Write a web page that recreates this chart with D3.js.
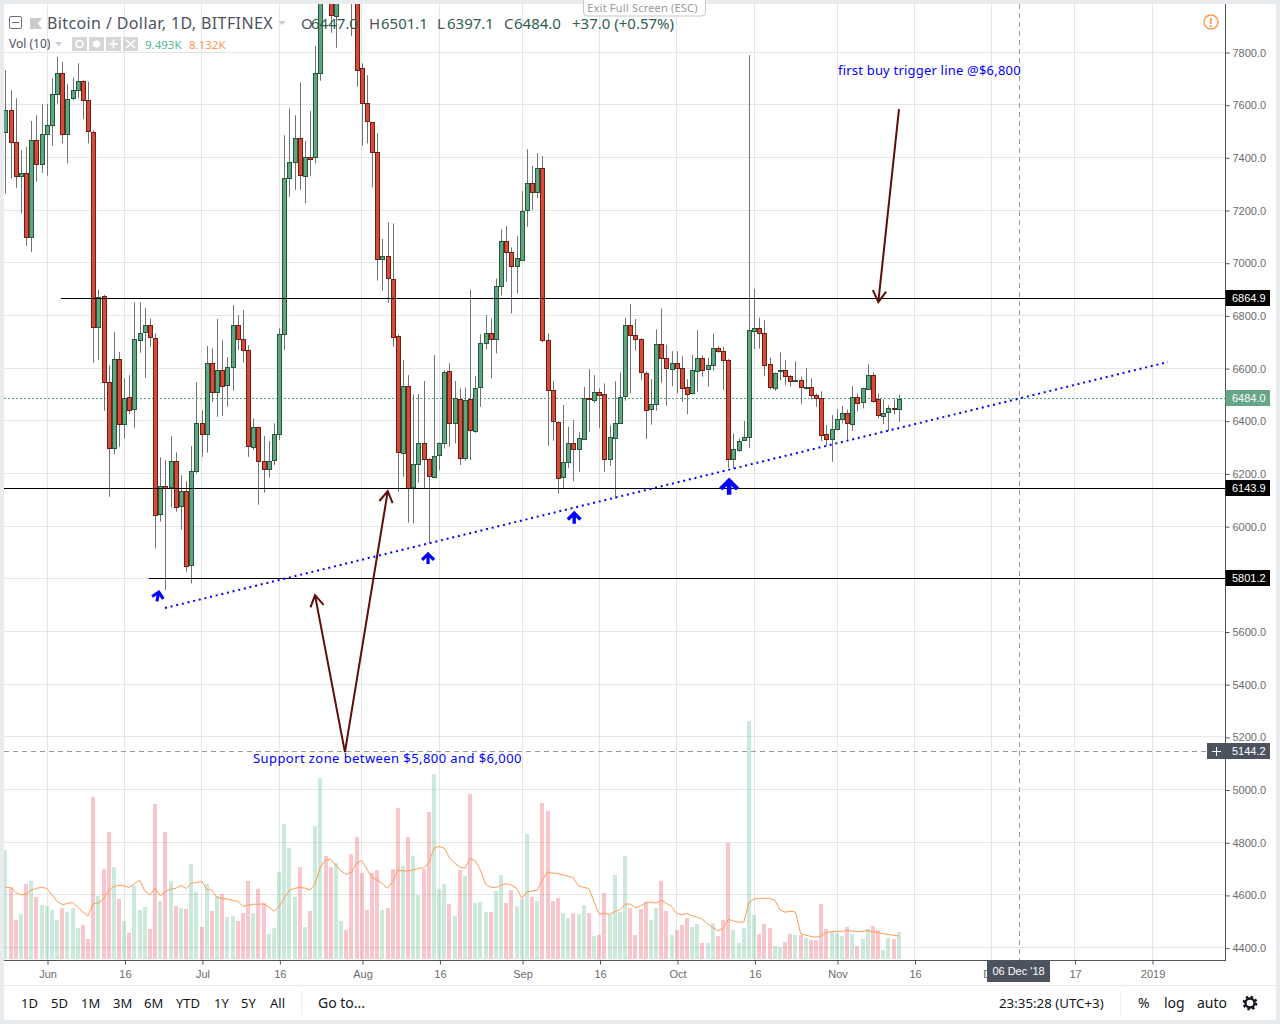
<!DOCTYPE html>
<html>
<head>
<meta charset="utf-8">
<script src="https://cdn.jsdelivr.net/npm/d3@7/dist/d3.min.js"></script>
<style>
  html, body { margin: 0; padding: 0; background: #e9ecef; }
  svg { display: block; }
  text { font-family: "Noto Sans", sans-serif; }
  .tick text, .axis-text { font-family: "Liberation Sans", Arial, sans-serif; }
</style>
</head>
<body>
<svg id="chart" width="1280" height="1024"></svg>
<script>
// first bar is 8 days before 1 Jun 2018, day number counts from 1 Jun
const firstDay = -8;

const opens = [
  7497, 7581, 7459, 7329, 7341, 7098, 7466, 7375,
  7489, 7523, 7641, 7721, 7489, 7626, 7656, 7690, 7618, 7500,
  6761, 6874, 6548, 6297, 6635, 6388, 6491, 6445, 6711, 6737,
  6764, 6718, 6046, 6153, 6149, 6251, 6077, 6134, 5853, 6210,
  6392, 6350, 6620, 6510, 6593, 6536, 6605, 6764, 6711, 6669,
  6305, 6380, 6251, 6221, 6251, 6350, 6730, 7322, 7383, 7474,
  7333, 7405, 7402, 7721, 8400, 8170, 7941, 8190, 8230, 8210,
  8180, 7740, 7607, 7535, 7421, 7015, 7026, 6942, 6722, 6282,
  6535, 6149, 6236, 6316, 6255, 6191, 6270, 6316, 6589, 6392,
  6484, 6259, 6483, 6365, 6528, 6696, 6734, 6711, 6912, 7083,
  7041, 6988, 7015, 7200, 7303, 7269, 7360, 6707, 6517, 6399,
  6187, 6244, 6316, 6293, 6335, 6490, 6483, 6513, 6502, 6255,
  6335, 6394, 6494, 6764, 6726, 6711, 6585, 6445, 6464, 6692,
  6639, 6601, 6623, 6604, 6532, 6506, 6593, 6642, 6597, 6612,
  6677, 6665, 6631, 6255, 6293, 6327, 6339, 6745, 6756, 6737,
  6616, 6525, 6589, 6593, 6570, 6551, 6555, 6528, 6532, 6500,
  6490, 6350, 6331, 6369, 6407, 6430, 6392, 6494, 6471, 6521,
  6574, 6483, 6422, 6433, 6449, 6447
];

const closes = [
  7581, 7459, 7329, 7341, 7098, 7466, 7375, 7489,
  7523, 7641, 7721, 7489, 7622, 7656, 7690, 7618, 7500, 6761,
  6873, 6548, 6297, 6635, 6388, 6487, 6441, 6711, 6737, 6764,
  6718, 6046, 6153, 6146, 6248, 6077, 6134, 5849, 6210, 6392,
  6350, 6620, 6510, 6593, 6532, 6605, 6764, 6711, 6669, 6305,
  6380, 6251, 6221, 6251, 6350, 6730, 7322, 7383, 7474, 7333,
  7405, 7398, 7721, 8400, 8170, 7941, 8190, 8230, 8210, 8180,
  7732, 7607, 7538, 7421, 7015, 7026, 6942, 6722, 6282, 6535,
  6149, 6236, 6316, 6255, 6191, 6270, 6316, 6586, 6392, 6487,
  6259, 6479, 6365, 6528, 6696, 6734, 6711, 6912, 7083, 7041,
  6988, 7018, 7200, 7303, 7269, 7360, 6707, 6517, 6399, 6187,
  6244, 6316, 6293, 6335, 6490, 6485, 6513, 6502, 6255, 6339,
  6392, 6494, 6764, 6726, 6711, 6585, 6445, 6464, 6692, 6639,
  6601, 6623, 6604, 6528, 6506, 6593, 6642, 6597, 6612, 6677,
  6665, 6631, 6255, 6293, 6327, 6339, 6745, 6756, 6737, 6616,
  6527, 6582, 6593, 6570, 6551, 6555, 6528, 6532, 6500, 6490,
  6350, 6331, 6369, 6407, 6430, 6392, 6494, 6471, 6525, 6574,
  6475, 6422, 6433, 6449, 6447, 6484
];

const highs = [
  7733, 7657, 7626, 7429, 7442, 7540, 7562, 7604,
  7604, 7702, 7784, 7765, 7680, 7705, 7759, 7695, 7689, 7505,
  6900, 6880, 6613, 6739, 6663, 6563, 6575, 6851, 6851, 6830,
  6790, 6734, 6263, 6253, 6344, 6282, 6195, 6172, 6306, 6548,
  6442, 6686, 6677, 6788, 6708, 6644, 6841, 6803, 6822, 6689,
  6411, 6380, 6344, 6325, 6392, 6753, 7486, 7588, 7562, 7686,
  7464, 7578, 7825, 8480, 8480, 8300, 8290, 8290, 8270, 8290,
  8230, 7759, 7714, 7535, 7493, 7092, 7155, 7151, 6730, 6632,
  6575, 6503, 6503, 6553, 6260, 6651, 6320, 6594, 6620, 6553,
  6525, 6528, 6900, 6572, 6731, 6803, 6790, 6942, 7129, 7141,
  7060, 7103, 7274, 7433, 7370, 7417, 7407, 6734, 6553, 6400,
  6462, 6379, 6404, 6358, 6531, 6598, 6575, 6525, 6544, 6385,
  6552, 6585, 6793, 6845, 6788, 6715, 6590, 6560, 6749, 6828,
  6690, 6666, 6666, 6647, 6560, 6651, 6746, 6651, 6642, 6733,
  6685, 6683, 6636, 6354, 6335, 6401, 7790, 6902, 6794, 6784,
  6642, 6585, 6661, 6632, 6575, 6628, 6570, 6602, 6563, 6505,
  6514, 6385, 6423, 6446, 6458, 6445, 6534, 6506, 6528, 6617,
  6585, 6506, 6483, 6461, 6487, 6501
];

const lows = [
  7265, 7322, 7286, 7189, 7066, 7043, 7309, 7343,
  7332, 7446, 7607, 7455, 7379, 7620, 7626, 7547, 7455, 6622,
  6632, 6440, 6114, 6274, 6303, 6334, 6427, 6375, 6660, 6565,
  6683, 5917, 6019, 5759, 6072, 6057, 5989, 5829, 5784, 6202,
  6265, 6281, 6474, 6417, 6420, 6455, 6516, 6670, 6622, 6265,
  6291, 6083, 6129, 6186, 6234, 6329, 6670, 7252, 7278, 7278,
  7227, 7332, 7379, 7693, 8050, 7875, 7818, 8100, 8100, 7862,
  7670, 7446, 7455, 7288, 6934, 6895, 6850, 6683, 6132, 6189,
  6015, 6012, 6167, 6143, 5936, 6183, 6215, 6297, 6303, 6316,
  6234, 6250, 6253, 6356, 6455, 6674, 6563, 6658, 6878, 6930,
  6810, 6885, 7010, 7138, 7202, 7248, 6700, 6307, 6326, 6126,
  6145, 6223, 6173, 6208, 6330, 6360, 6470, 6375, 6208, 6231,
  6107, 6390, 6478, 6506, 6668, 6556, 6333, 6387, 6440, 6546,
  6459, 6533, 6506, 6474, 6427, 6502, 6512, 6569, 6531, 6592,
  6660, 6518, 6223, 6221, 6284, 6325, 6299, 6674, 6676, 6571,
  6521, 6516, 6556, 6537, 6531, 6548, 6465, 6520, 6483, 6455,
  6325, 6307, 6246, 6365, 6392, 6325, 6364, 6437, 6449, 6521,
  6470, 6411, 6389, 6363, 6426, 6397
];

// volume in thousands
const volumes = [
  37.3, 24.6, 13.6, 15.6, 25.8, 26.8, 21.4, 18.6,
  18.3, 17, 13.6, 17.6, 16.3, 17.6, 10.8, 11.9, 7.1, 55.3,
  21.7, 30.8, 43.4, 31.5, 20.7, 13.2, 9.2, 25.4, 17, 18,
  10.5, 52.9, 20, 43.4, 26.8, 18.3, 17.6, 17.3, 32.5, 23.1,
  11.2, 25.8, 16.6, 21.7, 22.4, 14.6, 14.9, 13.2, 15.9, 26.8,
  15.9, 24.1, 19.3, 8.8, 10.8, 29.8, 46.1, 38, 21.4, 31.5,
  11.2, 16.6, 45.4, 61.7, 35.3, 31.5, 32.8, 13.2, 10.2, 35.9,
  41.7, 29.5, 17, 29.5, 30.5, 17, 17.6, 30.8, 51.5, 31.9,
  41.7, 35.3, 22, 30.8, 50.2, 63, 24, 25.8, 19, 14.9,
  30.5, 28.5, 56.3, 19.3, 19.7, 16.3, 16.3, 23.4, 28.8, 19.3,
  23.7, 18.3, 20.7, 42.7, 21.4, 20, 53.2, 50.5, 20, 21,
  15.9, 14.2, 15.9, 15.6, 18.6, 15.9, 8.1, 8.5, 22.7, 15.3,
  28.8, 16.3, 35.3, 17.6, 8.5, 17.3, 19.7, 13.6, 17.6, 26.8,
  16.6, 8.5, 10.2, 11.9, 14.2, 11.2, 12.2, 5.8, 5.8, 12.5,
  8.1, 13.6, 39.7, 10.2, 5.8, 10.8, 81, 15.3, 8.8, 12.2,
  10.8, 4.7, 4.4, 6.1, 8.8, 8.5, 8.5, 7.5, 6.8, 6.8,
  19, 10.5, 9.8, 9.2, 8.1, 11.2, 8.8, 4.7, 7.1, 10.5,
  11.5, 10.2, 3.4, 7.5, 7.1, 9.493
];

const volumeMA = [
  24.6, 24.6, 22.9, 22.1, 22.3, 23.7, 24.3, 24.6,
  24.3, 22.1, 19.9, 18.8, 19.1, 19.5, 17.9, 16.3, 15, 19,
  19.4, 20.6, 23.7, 24.9, 25.3, 25.1, 24.6, 25.9, 27, 23.4,
  22.1, 24.3, 21.8, 23.2, 24, 24.3, 25.3, 24.2, 26, 26.3,
  26.7, 24, 23.6, 21.2, 20.9, 20.6, 20.2, 19.9, 18.2, 18.6,
  18.9, 18.9, 19, 18, 16.5, 18.1, 20.9, 23.7, 24.3, 24.6,
  24.4, 23.7, 25.8, 31.5, 33.9, 34.1, 32.2, 30.2, 29, 29.7,
  32.8, 33.8, 30.8, 28, 27.1, 25.9, 24.3, 26.6, 30.5, 30.2,
  30.2, 30.5, 31.1, 31.2, 32.8, 37.9, 38.5, 37.9, 34.6, 32.8,
  31.5, 31.1, 34.5, 33.6, 30.5, 25.7, 24.7, 24.5, 25.4, 25.9,
  25.4, 24.3, 20.9, 23.2, 23.3, 23.7, 27.1, 29.9, 29.4, 29.3,
  28.8, 28.4, 27.8, 25.1, 24.6, 24.2, 19.8, 15.5, 15.8, 15.4,
  16.4, 16.9, 18.9, 19, 17.7, 18.3, 19.4, 19.7, 19.3, 20.2,
  19.2, 18.1, 15.8, 15.3, 15.8, 15, 14.5, 13.8, 12.2, 11,
  9.9, 10.7, 13.8, 13.2, 12.8, 12.8, 19.5, 20.7, 20.9, 20.9,
  20.9, 20.3, 17, 16.2, 16.5, 16.3, 9, 8.4, 8, 7.7,
  8.2, 9.3, 9.6, 9.7, 9.7, 10, 9.8, 9.6, 9.7, 10,
  9.6, 9.3, 8.9, 8.7, 8.4, 8.132
];

const priceTicks = d3.range(4400, 7801, 200);
const timeTickDays = [0, 15, 30, 45, 61, 76, 92, 107, 122, 137, 153, 168, 183, 199, 214];
const timeTickLabels = ["Jun", "16", "Jul", "16", "Aug", "16", "Sep", "16", "Oct", "16", "Nov", "16", "Dec", "17", "2019"];

// levels the author drew on the chart
const levelPrices = [6864.9, 6143.9, 5801.2];
const levelStartDays = [2.6, -10, 19.6];
const trendDays = [22.75, 217];
const trendPrices = [5691, 6625];
const arrowFrom = [[57.6, 5144], [57.6, 5144], [164.9, 7585]];
const arrowTo = [[65.9, 6135], [51.8, 5740], [160.9, 6853]];
const markerDays = [21.6, 73.7, 102, 132];
const markerPrices = [5755, 5900, 6055, 6180];
const markerSizes = [0.95, 1, 1.05, 1.4];
const markerTilts = [12, 0, 0, 0];
const lastPrice = 6484;
const crossDay = 188.1;
const crossPrice = 5144.2;

const svg = d3.select("#chart");
const plotLeft = 4, plotRight = 1225, plotTop = 4, plotBottom = 960;

// white panel
svg.append("rect").attr("x", plotLeft).attr("y", plotTop).attr("width", 1272).attr("height", 1016)
  .attr("rx", 3).attr("fill", "#fff");

const x = d3.scaleLinear().domain([0, 168]).range([47.5, 915]);
const y = d3.scaleLinear().domain([4400, 7800]).range([948.1, 52.5]);
const yVol = d3.scaleLinear().domain([0, 100]).range([960, 665]);
const pixelY = p => Math.round(y(p) - 0.8);

svg.append("defs").append("clipPath").attr("id", "plot")
  .append("rect").attr("x", plotLeft).attr("y", plotTop).attr("width", plotRight - plotLeft).attr("height", plotBottom - plotTop);

const plot = svg.append("g").attr("clip-path", "url(#plot)");

// Grid
plot.selectAll(".gx").data(timeTickDays).enter().append("rect")
  .attr("x", d => Math.round(x(d)) - 1).attr("y", plotTop).attr("width", 1).attr("height", plotBottom - plotTop)
  .attr("fill", "#e6e6e6");
plot.selectAll(".gy").data(priceTicks).enter().append("rect")
  .attr("x", plotLeft).attr("y", d => Math.round(y(d)) - 1).attr("width", plotRight - plotLeft).attr("height", 1)
  .attr("fill", "#e6e6e6");

const bars = opens.map((o, i) => ({
  day: firstDay + i, o: o, c: closes[i], h: highs[i], l: lows[i], v: volumes[i], ma: volumeMA[i]
}));
const cx = d => Math.round(x(d.day) - 0.8);

// Volume
plot.selectAll(".vol").data(bars).enter().append("rect")
  .attr("x", d => cx(d) - 2).attr("y", d => yVol(d.v)).attr("width", 4)
  .attr("height", d => plotBottom - 1 - yVol(d.v))
  .attr("fill", d => d.c >= d.o ? "#53b987" : "#eb4d5c")
  .attr("opacity", d => d.c >= d.o ? 0.3 : 0.32);

plot.append("path").datum(bars)
  .attr("fill", "none").attr("stroke", "#ff9a57").attr("stroke-width", 1)
  .attr("d", d3.line().x(d => x(d.day) - 0.8).y(d => yVol(d.ma)));

// Last price line
plot.append("line").attr("x1", plotLeft).attr("x2", plotRight)
  .attr("y1", pixelY(lastPrice) + 0.5).attr("y2", pixelY(lastPrice) + 0.5)
  .attr("stroke", "#53a57f").attr("stroke-width", 1).attr("stroke-dasharray", "2,2");

// Candles
plot.selectAll(".wick").data(bars).enter().append("rect")
  .attr("x", d => cx(d)).attr("y", d => y(d.h)).attr("width", 1)
  .attr("height", d => y(d.l) - y(d.h))
  .attr("fill", "#737373");
plot.selectAll(".candle").data(bars).enter().append("rect")
  .attr("x", d => cx(d) - 1.5)
  .attr("y", d => Math.round(y(Math.max(d.o, d.c))) + 0.5)
  .attr("width", 4)
  .attr("height", d => Math.max(1, Math.round(y(Math.min(d.o, d.c)) - y(Math.max(d.o, d.c)))))
  .attr("fill", d => d.c >= d.o ? "#62a380" : "#d64c38")
  .attr("stroke", d => d.c >= d.o ? "#225a3e" : "#6e1e14")
  .attr("stroke-width", 1);

// Horizontal levels
levelPrices.forEach((p, i) => {
  plot.append("rect")
    .attr("x", x(levelStartDays[i])).attr("width", plotRight - x(levelStartDays[i]))
    .attr("y", pixelY(p)).attr("height", 1)
    .attr("fill", "#000");
});

// Trend line
plot.append("line")
  .attr("x1", x(trendDays[0])).attr("y1", y(trendPrices[0]))
  .attr("x2", x(trendDays[1])).attr("y2", y(trendPrices[1]))
  .attr("stroke", "#0000ff").attr("stroke-width", 2).attr("stroke-dasharray", "2,3.8");

// Crosshair
plot.append("line").attr("x1", plotLeft).attr("x2", plotRight)
  .attr("y1", pixelY(crossPrice) + 0.5).attr("y2", pixelY(crossPrice) + 0.5)
  .attr("stroke", "#9a9a9a").attr("stroke-dasharray", "5,4");
plot.append("line").attr("y1", plotTop).attr("y2", plotBottom)
  .attr("x1", Math.round(x(crossDay)) + 0.5).attr("x2", Math.round(x(crossDay)) + 0.5)
  .attr("stroke", "#9a9a9a").attr("stroke-dasharray", "5,4");

// Dark red arrows
const arrowColor = "#5c0f08";
arrowFrom.forEach((a, i) => {
  const b = arrowTo[i];
  const x1 = x(a[0]), y1 = y(a[1]), x2 = x(b[0]), y2 = y(b[1]);
  const ang = Math.atan2(y2 - y1, x2 - x1);
  const head = [ang + 2.6, ang - 2.6].map(t => [x2 + 13 * Math.cos(t), y2 + 13 * Math.sin(t)]);
  plot.append("path")
    .attr("d", `M${x1},${y1}L${x2},${y2}M${head[0]}L${x2},${y2}L${head[1]}`)
    .attr("fill", "none").attr("stroke", arrowColor).attr("stroke-width", 2);
});

// Blue markers
markerDays.forEach((d, i) => {
  const s = markerSizes[i];
  plot.append("path")
    .attr("transform", `translate(${x(d)},${y(markerPrices[i])}) rotate(${markerTilts[i]}) scale(${s})`)
    .attr("d", "M0,1V11M-6,7L0,1L6,7")
    .attr("fill", "none").attr("stroke", "#0000ff").attr("stroke-width", 3.2);
});

// Notes
svg.append("text").attr("x", 838).attr("y", 75).attr("fill", "#0000ff").style("font-size", "13px")
  .style("letter-spacing", "0.2px").text("first buy trigger line @$6,800");
svg.append("text").attr("x", 253).attr("y", 763).attr("fill", "#0000ff").style("font-size", "13px")
  .style("letter-spacing", "0.42px").text("Support zone between $5,800 and $6,000");

// Axes
const axisColor = "#50535e";
const yAxis = svg.append("g").attr("transform", `translate(${plotRight + 0.5},0)`)
  .call(d3.axisRight(y).tickValues(priceTicks).tickSize(4).tickPadding(3).tickFormat(d3.format(".1f")));
yAxis.select(".domain").attr("d", `M0,${plotTop}V${plotBottom + 1}`).attr("stroke", axisColor);
yAxis.selectAll("line").attr("stroke", axisColor);
yAxis.selectAll("text").attr("fill", "#6b6b6b").style("font-size", "11px");

const xAxis = svg.append("g").attr("transform", `translate(0,${plotBottom + 0.5})`)
  .call(d3.axisBottom(x).tickValues(timeTickDays).tickSize(4).tickPadding(6).tickFormat((d, i) => timeTickLabels[i]));
xAxis.select(".domain").attr("d", `M${plotLeft},0H${plotRight}`).attr("stroke", axisColor);
xAxis.selectAll("line").attr("stroke", axisColor);
xAxis.selectAll("text").attr("fill", "#6b6b6b").style("font-size", "11px");

// Price labels on the axis
function priceLabel(p, txt, fill) {
  const py = pixelY(p);
  svg.append("rect").attr("x", plotRight + 0.5).attr("y", py - 8).attr("width", 44.5).attr("height", 16).attr("fill", fill);
  svg.append("text").attr("class", "axis-text").attr("x", plotRight + 7).attr("y", py + 4).attr("fill", "#fff")
    .style("font-size", "11px").text(txt);
}
levelPrices.forEach(p => priceLabel(p, p.toFixed(1), "#000"));
priceLabel(lastPrice, lastPrice.toFixed(1), "#67a587");
priceLabel(crossPrice, crossPrice.toFixed(1), "#4c525e");

// Crosshair + button
svg.append("rect").attr("x", 1207).attr("y", pixelY(crossPrice) - 8).attr("width", 18).attr("height", 16).attr("fill", "#4c525e");
svg.append("path").attr("d", `M1212,${pixelY(crossPrice) + 0.5}h9M1216.5,${pixelY(crossPrice) - 4}v9`)
  .attr("stroke", "#fff").attr("fill", "none");

// Crosshair date label
svg.append("rect").attr("x", 987).attr("y", 961).attr("width", 63).attr("height", 21).attr("fill", "#4c525e");
svg.append("text").attr("class", "axis-text").attr("x", 1018.5).attr("y", 975).attr("text-anchor", "middle")
  .attr("fill", "#fff").style("font-size", "11px").text("06 Dec '18");

// Legend
svg.append("rect").attr("x", 9.5).attr("y", 16.5).attr("width", 12).attr("height", 12).attr("rx", 1.5)
  .attr("fill", "#fff").attr("stroke", "#6a6d78");
svg.append("path").attr("d", "M12,22.5h7").attr("stroke", "#6a6d78");
svg.append("path").attr("d", "M30,18h12l-4,5.5l4,5.5h-12z").attr("fill", "#c9cbd1");
svg.append("text").attr("x", 47).attr("y", 29).attr("fill", "#4c525e").style("font-size", "16px")
  .style("letter-spacing", "0.38px").text("Bitcoin / Dollar, 1D, BITFINEX");
svg.append("path").attr("d", "M278,21h8l-4,4z").attr("fill", "#c9cbd1");

const ohlcLabels = ["O", "H", "L", "C"];
const ohlcValues = ["6447.0", "6501.1", "6397.1", "6484.0"];
const ohlcX = [301, 369, 437, 504];
const ohlcGap = [10, 12, 10, 10];
ohlcLabels.forEach((l, i) => {
  svg.append("text").attr("x", ohlcX[i]).attr("y", 29).attr("fill", "#4c525e").style("font-size", "15px").text(l);
  svg.append("text").attr("x", ohlcX[i] + ohlcGap[i]).attr("y", 29).attr("fill", "#2f5d50").style("font-size", "15px").text(ohlcValues[i]);
});
svg.append("text").attr("x", 572).attr("y", 29).attr("fill", "#2f5d50").style("font-size", "15px").text("+37.0 (+0.57%)");

svg.append("text").attr("x", 9).attr("y", 48).attr("fill", "#4c525e").style("font-size", "12px").text("Vol (10)");
svg.append("path").attr("d", "M55,42h7l-3.5,4z").attr("fill", "#c9cbd1");
[72, 89, 106, 123].forEach(ix => {
  svg.append("rect").attr("x", ix).attr("y", 37).attr("width", 15).attr("height", 14).attr("fill", "#d6d6d6");
});
svg.append("circle").attr("cx", 79.5).attr("cy", 44).attr("r", 3.5).attr("fill", "none").attr("stroke", "#fff").attr("stroke-width", 1.6);
svg.append("circle").attr("cx", 96.5).attr("cy", 44).attr("r", 3.5).attr("fill", "#fff");
svg.append("path").attr("d", "M109,44h9M113.5,39.5v9M126,40l9,8M135,40l-9,8").attr("stroke", "#fff").attr("stroke-width", 1.6);
svg.append("text").attr("x", 145).attr("y", 49).attr("fill", "#53b987").style("font-size", "11.5px").text("9.493K");
svg.append("text").attr("x", 189).attr("y", 49).attr("fill", "#ff9a57").style("font-size", "11.5px").text("8.132K");

// Exit full screen pill
svg.append("rect").attr("x", 583.5).attr("y", -4).attr("width", 122).attr("height", 20).attr("rx", 4)
  .attr("fill", "#fff").attr("stroke", "#c8c8c8");
svg.append("text").attr("x", 642.5).attr("y", 12).attr("text-anchor", "middle").attr("fill", "#9a9a9a")
  .style("font-size", "11px").style("letter-spacing", "0.2px").text("Exit Full Screen (ESC)");

// Warning icon
svg.append("circle").attr("cx", 1211).attr("cy", 22).attr("r", 7).attr("fill", "#fff").attr("stroke", "#ff9850").attr("stroke-width", 1.4);
svg.append("text").attr("x", 1211).attr("y", 26.5).attr("text-anchor", "middle").attr("fill", "#ff9850")
  .style("font-size", "12px").style("font-weight", "bold").text("!");

// Bottom toolbar
svg.append("rect").attr("x", plotLeft).attr("y", 985).attr("width", 1272).attr("height", 1).attr("fill", "#e9ecef");
const rangeLabels = ["1D", "5D", "1M", "3M", "6M", "YTD", "1Y", "5Y", "All"];
const rangeX = [21, 51, 81, 113, 144, 176, 214, 241, 270];
rangeLabels.forEach((l, i) => {
  svg.append("text").attr("x", rangeX[i]).attr("y", 1008).attr("fill", "#131722").style("font-size", "13px").text(l);
});
svg.append("rect").attr("x", 301).attr("y", 991).attr("width", 1).attr("height", 24).attr("fill", "#e9ecef");
svg.append("rect").attr("x", 1120).attr("y", 991).attr("width", 1).attr("height", 24).attr("fill", "#e9ecef");
svg.append("text").attr("x", 318).attr("y", 1008).attr("fill", "#131722").style("font-size", "14px").text("Go to...");
svg.append("text").attr("x", 999).attr("y", 1008).attr("fill", "#131722").style("font-size", "13.3px").text("23:35:28 (UTC+3)");
svg.append("text").attr("x", 1138).attr("y", 1008).attr("fill", "#131722").style("font-size", "14px").text("%");
svg.append("text").attr("x", 1164).attr("y", 1008).attr("fill", "#131722").style("font-size", "14px").text("log");
svg.append("text").attr("x", 1197).attr("y", 1008).attr("fill", "#131722").style("font-size", "14px").text("auto");

// Gear
svg.append("circle").attr("cx", 1250).attr("cy", 1003).attr("r", 4.5).attr("fill", "none")
  .attr("stroke", "#131722").attr("stroke-width", 2.4);
svg.append("circle").attr("cx", 1250).attr("cy", 1003).attr("r", 6.2).attr("fill", "none")
  .attr("stroke", "#131722").attr("stroke-width", 2.4).attr("stroke-dasharray", "2.43,2.43");
</script>
</body>
</html>
